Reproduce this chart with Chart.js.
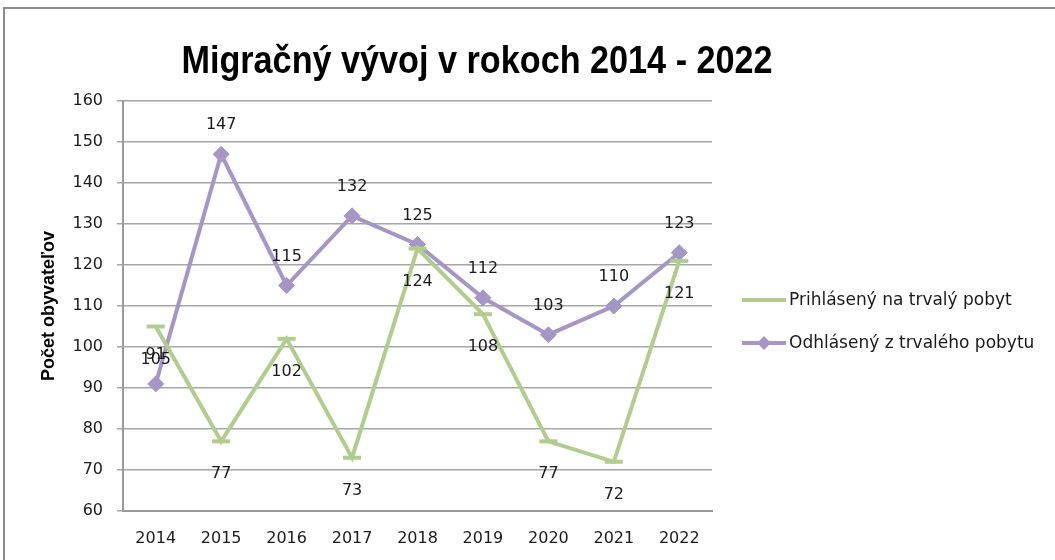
<!DOCTYPE html>
<html>
<head>
<meta charset="utf-8">
<script src="https://cdn.jsdelivr.net/npm/chart.js@4.4.1/dist/chart.umd.min.js"></script>
<style>
    html, body { margin: 0; padding: 0; background: #fff; }
    #wrap { width: 1055px; height: 560px; }
</style>
</head>
<body>
<div id="wrap"><canvas id="chart" width="1055" height="560"></canvas></div>
<script>
const years = ["2014", "2015", "2016", "2017", "2018", "2019", "2020", "2021", "2022"];
const prihlaseni = [105, 77, 102, 73, 124, 108, 77, 72, 121];
const odhlaseni = [91, 147, 115, 132, 125, 112, 103, 110, 123];
const seriesNames = ["Prihlásený na trvalý pobyt", "Odhlásený z trvalého pobytu"];
const chartTitle = "Migračný vývoj v rokoch 2014 - 2022";
const yTitle = "Počet obyvateľov";

const green = "#b1cd8d";
const purple = "#a596c6";
const labelFont = "16px 'DejaVu Sans', sans-serif";

/* frame, title, value labels and legend */
const decor = {
    id: "decor",
    beforeDraw(chart) {
        const ctx = chart.ctx;
        ctx.save();
        ctx.fillStyle = "#fff";
        ctx.fillRect(0, 0, chart.width, chart.height);
        ctx.strokeStyle = "#8c8c8c";
        ctx.lineWidth = 2;
        ctx.strokeRect(4, 8, chart.width + 20, chart.height + 20);
        ctx.restore();
    },
    afterDatasetsDraw(chart) {
        const ctx = chart.ctx;
        ctx.save();
        // condensed bold title
        ctx.fillStyle = "#000";
        ctx.font = "bold 38px 'Liberation Sans', sans-serif";
        ctx.textAlign = "center";
        ctx.textBaseline = "middle";
        ctx.save();
        ctx.translate(477, 63);
        ctx.scale(0.9, 1);
        ctx.fillText(chartTitle, 0, 0);
        ctx.restore();

        // value labels: green below, purple above
        ctx.font = labelFont;
        ctx.fillStyle = "#1a1a1a";
        chart.data.datasets.forEach((ds, i) => {
            const meta = chart.getDatasetMeta(i);
            meta.data.forEach((pt, j) => {
                const dy = i === 0 ? 33 : -29;
                ctx.fillText(String(ds.data[j]), pt.x, pt.y + dy);
            });
        });

        // legend
        const lx = 742, rows = [300, 343];
        ctx.textAlign = "left";
        ctx.font = "17px 'DejaVu Sans', sans-serif";
        [green, purple].forEach((c, i) => {
            const y = rows[i];
            ctx.strokeStyle = c;
            ctx.lineWidth = 4;
            ctx.beginPath();
            ctx.moveTo(lx, y);
            ctx.lineTo(lx + 44, y);
            ctx.stroke();
            if (i === 1) {
                ctx.fillStyle = c;
                ctx.beginPath();
                ctx.moveTo(lx + 22, y - 7);
                ctx.lineTo(lx + 29, y);
                ctx.lineTo(lx + 22, y + 7);
                ctx.lineTo(lx + 15, y);
                ctx.closePath();
                ctx.fill();
            }
            ctx.fillStyle = "#1a1a1a";
            ctx.fillText(seriesNames[i], lx + 47, y + 1);
        });
        ctx.restore();
    }
};

new Chart(document.getElementById("chart").getContext("2d"), {
    type: "line",
    data: {
        labels: years,
        datasets: [
            {
                label: seriesNames[0],
                data: prihlaseni,
                borderColor: green,
                backgroundColor: green,
                borderWidth: 4,
                pointStyle: "line",
                pointRadius: 9,
                pointBorderWidth: 4,
                pointBorderColor: green,
                tension: 0,
            },
            {
                label: seriesNames[1],
                data: odhlaseni,
                borderColor: purple,
                backgroundColor: purple,
                borderWidth: 4,
                pointStyle: "rectRot",
                pointRadius: 8,
                pointBorderWidth: 1,
                tension: 0,
            },
        ],
    },
    options: {
        responsive: false,
        animation: false,
        layout: { padding: { left: 30, right: 343, top: 101, bottom: 0 } },
        plugins: {
            legend: { display: false },
            title: { display: false },
            tooltip: { enabled: false },
        },
        scales: {
            x: {
                offset: true,
                grid: { display: false, drawTicks: false },
                border: { color: "#9a9a9a", width: 2 },
                ticks: { color: "#1a1a1a", font: { family: "'DejaVu Sans', sans-serif", size: 16 }, padding: 18, maxRotation: 0 },
                afterFit(scale) { scale.height = 49; },
            },
            y: {
                min: 60,
                max: 160,
                ticks: { stepSize: 10, color: "#1a1a1a", font: { family: "'DejaVu Sans', sans-serif", size: 16 }, padding: 14 },
                grid: { color: "#a6a6a6", lineWidth: 1.5, tickLength: 6 },
                border: { color: "#9a9a9a", width: 2 },
                title: {
                    display: true,
                    text: yTitle,
                    color: "#000",
                    font: { family: "'Liberation Sans', sans-serif", size: 18, weight: "bold" },
                    padding: { top: 8, bottom: 0 },
                },
                afterFit(scale) { scale.width = 93; },
            },
        },
    },
    plugins: [decor],
});
</script>
</body>
</html>
